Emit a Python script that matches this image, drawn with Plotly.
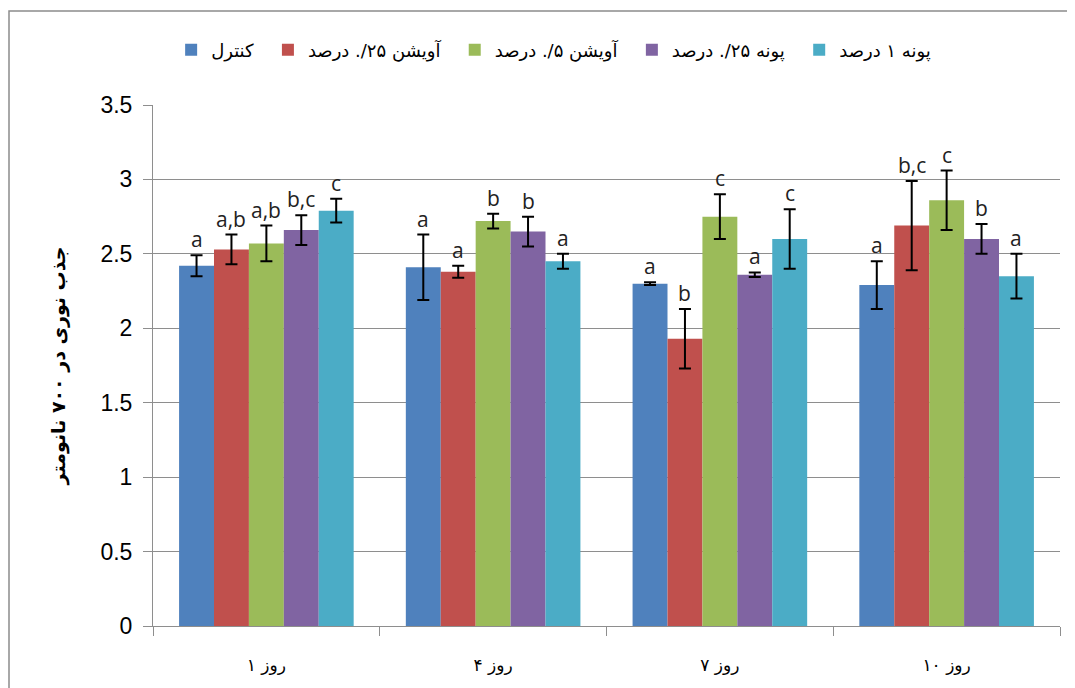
import plotly.graph_objects as go

categories = ["روز ۱", "روز ۴", "روز ۷", "روز ۱۰"]
series_names = ["کنترل", "آویشن ۲۵/. درصد", "آویشن ۵/. درصد", "پونه ۲۵/. درصد", "پونه ۱ درصد"]
colors = ["#4F81BD", "#C0504D", "#9BBB59", "#8064A2", "#4BACC6"]

control = [2.42, 2.41, 2.30, 2.29]
thyme_025 = [2.53, 2.38, 1.93, 2.69]
thyme_05 = [2.57, 2.72, 2.75, 2.86]
mint_025 = [2.66, 2.65, 2.36, 2.60]
mint_1 = [2.79, 2.45, 2.60, 2.35]

control_err = [0.07, 0.22, 0.01, 0.16]
thyme_025_err = [0.10, 0.04, 0.20, 0.30]
thyme_05_err = [0.12, 0.05, 0.15, 0.20]
mint_025_err = [0.10, 0.10, 0.015, 0.10]
mint_1_err = [0.08, 0.05, 0.20, 0.15]

control_lbl = ["a", "a", "a", "a"]
thyme_025_lbl = ["a,b", "a", "b", "b,c"]
thyme_05_lbl = ["a,b", "b", "c", "c"]
mint_025_lbl = ["b,c", "b", "a", "b"]
mint_1_lbl = ["c", "a", "c", "a"]

values = [control, thyme_025, thyme_05, mint_025, mint_1]
errors = [control_err, thyme_025_err, thyme_05_err, mint_025_err, mint_1_err]
labels = [control_lbl, thyme_025_lbl, thyme_05_lbl, mint_025_lbl, mint_1_lbl]

W, H = 1075, 688
ML, MR, MT, MB = 145, 23, 97, 70
BARGAP = 0.23
plot_w = W - ML - MR
plot_h = H - MT - MB
cat_w = plot_w / len(categories)
bar_w = cat_w * (1 - BARGAP) / len(values)

fig = go.Figure()
for i, (name, vals, errs, col) in enumerate(zip(series_names, values, errors, colors)):
    fig.add_trace(go.Bar(
        name=name + "\u00a0\u2009", x=categories, y=vals, marker=dict(color=col, line=dict(width=0)),
        error_y=dict(type="data", array=errs, visible=True, color="black", thickness=2, width=6),
    ))

annotations = []
for i, (vals, errs, lbls) in enumerate(zip(values, errors, labels)):
    for c, v, e, t in zip(categories, vals, errs, lbls):
        annotations.append(dict(
            x=c, y=v + e, text=t, showarrow=False, xref="x", yref="y",
            xanchor="center", yanchor="bottom", yshift=0,
            xshift=(i - (len(values) - 1) / 2) * bar_w,
            font=dict(family="Open Sans", size=21, color="#222222"),
        ))

fig.update_layout(
    width=W, height=H,
    margin=dict(l=ML, r=MR, t=MT, b=MB, autoexpand=False),
    paper_bgcolor="white", plot_bgcolor="white",
    barmode="group", bargap=BARGAP, bargroupgap=0,
    showlegend=True,
    legend=dict(orientation="h", x=0.02, xanchor="left", y=1 + 55 / plot_h, yanchor="middle",
                font=dict(family="DejaVu Sans", size=18, color="black"),
                itemwidth=30, traceorder="normal"),
    annotations=annotations,
    shapes=[dict(type="rect", xref="paper", yref="paper",
                 x0=(1 - ML) / plot_w, x1=(W + 20 - ML) / plot_w,
                 y0=-(MB + 20) / plot_h, y1=1 + (MT - 3) / plot_h,
                 line=dict(color="#8C8C8C", width=1.5), fillcolor="rgba(0,0,0,0)", layer="below")],
)

fig.update_yaxes(
    range=[0, 3.5], dtick=0.5, tick0=0,
    showgrid=True, gridcolor="#8E8E8E", gridwidth=1,
    showline=True, linecolor="#8E8E8E", linewidth=1,
    ticks="outside", ticklen=9, tickcolor="#8E8E8E",
    tickfont=dict(family="Liberation Sans", size=23, color="black"),
    ticklabelstandoff=6,
    zeroline=False,
    title=dict(text="<b>جذب نوری در ۷۰۰ نانومتر</b>", font=dict(family="DejaVu Sans", size=19, color="black"), standoff=29),
)
fig.update_xaxes(
    showline=True, linecolor="#8E8E8E", linewidth=1,
    ticks="outside", ticklen=9, tickcolor="#8E8E8E", tickson="boundaries",
    tickfont=dict(family="DejaVu Sans", size=17, color="black"),
    ticklabelstandoff=24,
)

fig.write_html("out.html")
